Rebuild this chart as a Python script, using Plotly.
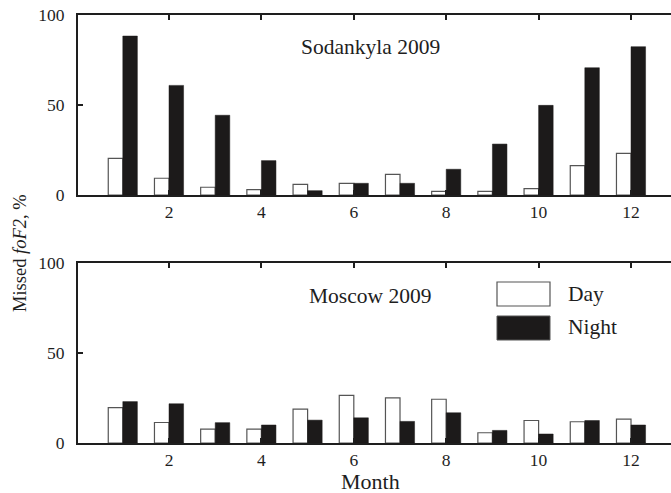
import plotly.graph_objects as go
from plotly.subplots import make_subplots

months = [1, 2, 3, 4, 5, 6, 7, 8, 9, 10, 11, 12]
tick_vals = [2, 4, 6, 8, 10, 12]
tick_text = ["2", "4", "6", "8", "10", "12"]

sod_day = [20.4, 9.3, 4.3, 3.0, 5.9, 6.5, 11.5, 2.0, 2.0, 3.5, 16.3, 23.1]
sod_night = [88.3, 60.9, 44.3, 19.1, 2.4, 6.5, 6.5, 14.3, 28.3, 49.8, 70.7, 82.4]
mos_day = [19.6, 11.4, 7.7, 7.7, 18.8, 26.5, 25.1, 24.3, 5.7, 12.5, 11.8, 13.3]
mos_night = [23.0, 21.8, 11.3, 10.0, 12.7, 14.0, 12.0, 16.8, 7.0, 5.0, 12.5, 10.0]

FONT = "Liberation Serif, Times New Roman, serif"
INK = "#1e1e1e"
NIGHT = "#1c1a1a"

fig = make_subplots(rows=2, cols=1, vertical_spacing=0.0)

for row, (d, n) in enumerate([(sod_day, sod_night), (mos_day, mos_night)], start=1):
    fig.add_trace(go.Bar(x=months, y=d, name="Day", marker=dict(color="white", line=dict(color="#555555", width=1.2)),
                         showlegend=False), row=row, col=1)
    fig.add_trace(go.Bar(x=months, y=n, name="Night", marker=dict(color=NIGHT, line=dict(color=NIGHT, width=0.5)),
                         showlegend=False), row=row, col=1)

W, H = 671, 493
L, R, T, B = 78, 0, 15, 493 - 443
ph = H - T - B
top_dom = [(443 - 195) / ph, 1.0]
bot_dom = [0.0, (443 - 263) / ph]

axis_common = dict(showline=True, linecolor=INK, linewidth=2, showgrid=False, zeroline=False,
                   automargin=False, tickfont=dict(family=FONT, size=17.5, color=INK))

fig.update_layout(
    width=W, height=H,
    margin=dict(l=L, r=R, t=T, b=B),
    paper_bgcolor="white", plot_bgcolor="white",
    barmode="group", bargap=0.37, bargroupgap=0.0,
    font=dict(family=FONT, color=INK),
)

x_right = 0.03 + (W - L) / 46.2
for ax in ["xaxis", "xaxis2"]:
    fig.layout[ax].update(range=[0.03, x_right], tickvals=tick_vals, ticktext=tick_text,
                          ticks="inside", ticklen=5, tickwidth=1.5, tickcolor=INK,
                          mirror="ticks", **axis_common)
fig.layout.xaxis.update(anchor="y")
fig.layout.xaxis2.update(anchor="y2")
for ax, dom in [("yaxis", top_dom), ("yaxis2", bot_dom)]:
    fig.layout[ax].update(domain=dom, range=[0, 100], tickvals=[0, 50, 100],
                          ticks="inside", ticklen=5, tickwidth=1.5, tickcolor=INK,
                          ticklabelstandoff=8, **axis_common)

# window-pixel -> paper coordinates
def px(x):
    return (x - L) / (W - L - R)

def py(y):
    return (H - B - y) / ph

annos = [
    dict(text="Sodankyla 2009", x=px(370), y=py(47), xa="center", size=21.5),
    dict(text="Moscow 2009", x=px(370), y=py(296), xa="center", size=21.5),
    dict(text="Day", x=px(566), y=py(294), xa="left", size=21.5),
    dict(text="Night", x=px(566), y=py(327), xa="left", size=21.5),
    dict(text="Month", x=px(370), y=py(481), xa="center", size=22),
]
for a in annos:
    fig.add_annotation(text=a["text"], x=a["x"], y=a["y"], xref="paper", yref="paper",
                       showarrow=False, font=dict(family=FONT, size=a["size"], color=INK),
                       xanchor=a["xa"], yanchor="middle")

fig.add_annotation(text="Missed <i>foF2</i>, %", x=px(20), y=py(253), xref="paper", yref="paper",
                   showarrow=False, textangle=-90, font=dict(family=FONT, size=18.5, color=INK),
                   xanchor="center", yanchor="middle")

fig.add_shape(type="rect", xref="paper", yref="paper", x0=px(497), x1=px(550), y0=py(306), y1=py(282),
              fillcolor="white", line=dict(color="#555555", width=1.2))
fig.add_shape(type="rect", xref="paper", yref="paper", x0=px(497), x1=px(550), y0=py(340), y1=py(316),
              fillcolor=NIGHT, line=dict(color="#555555", width=1))

fig.write_html("out.html", config={"displayModeBar": False},
               post_script="document.body.style.margin='0';document.body.style.overflow='hidden';")
